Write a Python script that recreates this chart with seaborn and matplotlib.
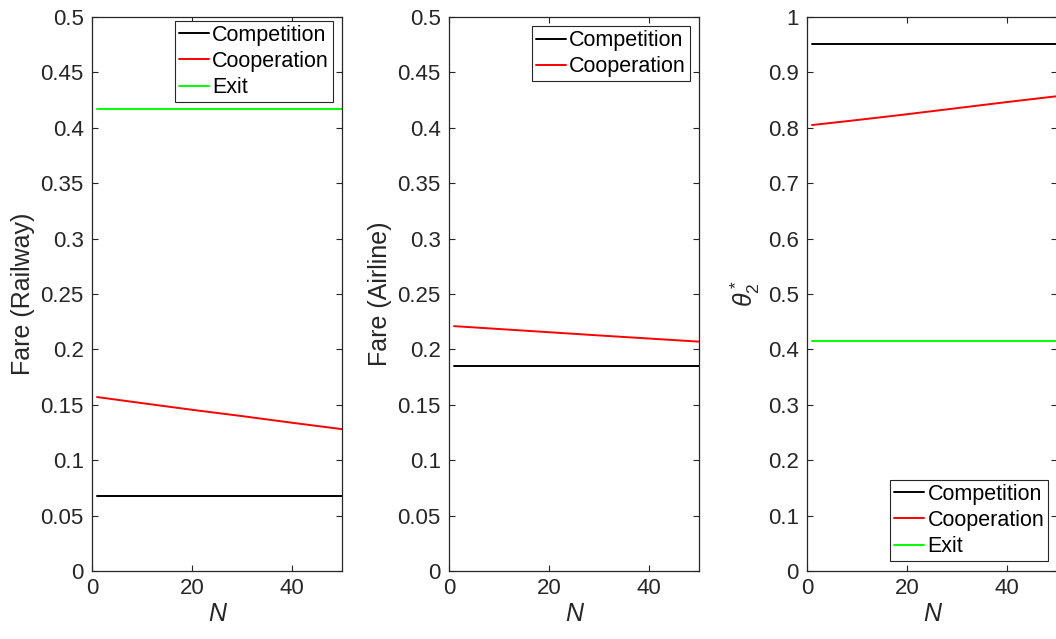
import matplotlib
matplotlib.use("Agg")
import matplotlib.pyplot as plt
import seaborn as sns
import pandas as pd

# Number of firms / market size N sampled along the horizontal axis
n_values = [1, 10, 20, 30, 40, 50]

# Railway fare under each scheme
rail_competition = [0.068, 0.068, 0.068, 0.068, 0.068, 0.068]
rail_cooperation = [0.157, 0.1515, 0.1455, 0.1398, 0.1338, 0.128]
rail_exit = [0.4167, 0.4167, 0.4167, 0.4167, 0.4167, 0.4167]

# Airline fare under each scheme
air_competition = [0.185, 0.185, 0.185, 0.185, 0.185, 0.185]
air_cooperation = [0.221, 0.2184, 0.2155, 0.2126, 0.2098, 0.207]

# Optimal theta_2 under each scheme
theta_competition = [0.951, 0.951, 0.951, 0.951, 0.951, 0.951]
theta_cooperation = [0.805, 0.814, 0.8245, 0.8355, 0.8465, 0.857]
theta_exit = [0.415, 0.415, 0.415, 0.415, 0.415, 0.415]

schemes = ["Competition", "Cooperation", "Exit"]
scheme_colors = {"Competition": "#000000", "Cooperation": "#ff0000", "Exit": "#00ff00"}

rail_ticks = [0, 0.05, 0.1, 0.15, 0.2, 0.25, 0.3, 0.35, 0.4, 0.45, 0.5]
rail_ticklabels = ["0", "0.05", "0.1", "0.15", "0.2", "0.25", "0.3", "0.35", "0.4", "0.45", "0.5"]
theta_ticks = [0, 0.1, 0.2, 0.3, 0.4, 0.5, 0.6, 0.7, 0.8, 0.9, 1.0]
theta_ticklabels = ["0", "0.1", "0.2", "0.3", "0.4", "0.5", "0.6", "0.7", "0.8", "0.9", "1"]
x_ticks = [0, 20, 40]


def long_frame(series):
    rows = []
    for name, vals in series.items():
        for n, v in zip(n_values, vals):
            rows.append({"N": n, "value": v, "Scheme": name})
    return pd.DataFrame(rows)


sns.set_theme(style="white")
ink = "#262626"
plt.rcParams["font.family"] = ["Liberation Sans", "DejaVu Sans"]
plt.rcParams["mathtext.fontset"] = "custom"
plt.rcParams["mathtext.it"] = "Liberation Sans:italic"
plt.rcParams["mathtext.rm"] = "Liberation Sans"
plt.rcParams["axes.edgecolor"] = ink
plt.rcParams["axes.linewidth"] = 0.9

fig = plt.figure(figsize=(10.56, 6.39), dpi=100)
W, H = 1056, 639
bottom_px, top_px = 571, 17
height = (bottom_px - top_px) / H
bottom = (H - bottom_px) / H
lefts_px = [92, 449, 807]
width = 250 / W

panels = [
    {
        "series": {"Competition": rail_competition, "Cooperation": rail_cooperation, "Exit": rail_exit},
        "ylim": (0, 0.5), "ticks": rail_ticks, "labels": rail_ticklabels,
        "ylabel": "Fare (Railway)", "legend": ("upper right", (0.964, 0.993)),
    },
    {
        "series": {"Competition": air_competition, "Cooperation": air_cooperation},
        "ylim": (0, 0.5), "ticks": rail_ticks, "labels": rail_ticklabels,
        "ylabel": "Fare (Airline)", "legend": ("upper right", (0.964, 0.983)),
    },
    {
        "series": {"Competition": theta_competition, "Cooperation": theta_cooperation, "Exit": theta_exit},
        "ylim": (0, 1), "ticks": theta_ticks, "labels": theta_ticklabels,
        "ylabel": r"$\theta_2^*$", "legend": ("lower right", (0.965, 0.018)),
    },
]

for left_px, spec in zip(lefts_px, panels):
    ax = fig.add_axes([left_px / W, bottom, width, height])
    df = long_frame(spec["series"])
    present = [s for s in schemes if s in spec["series"]]
    sns.lineplot(data=df, x="N", y="value", hue="Scheme", hue_order=present,
                 palette=scheme_colors, linewidth=1.4, ax=ax)
    ax.set_xlim(0, 50)
    ax.set_ylim(*spec["ylim"])
    ax.set_xticks(x_ticks)
    ax.set_xticklabels([str(t) for t in x_ticks])
    ax.set_yticks(spec["ticks"])
    ax.set_yticklabels(spec["labels"])
    ax.tick_params(direction="in", length=4, width=0.8, colors=ink,
                   labelsize=16, top=True, right=True, left=True, bottom=True)
    ax.tick_params(axis="y", pad=6)
    ax.tick_params(axis="x", pad=5)
    ax.set_xlabel("N", fontsize=18, fontstyle="italic", color=ink, labelpad=2)
    ax.set_ylabel(spec["ylabel"], fontsize=18, color=ink, labelpad=4)
    for sp in ax.spines.values():
        sp.set_visible(True)
        sp.set_color(ink)
    loc, anchor = spec["legend"]
    leg = ax.legend(loc=loc, bbox_to_anchor=anchor, borderaxespad=0, fontsize=15.5,
                    fancybox=False, framealpha=1, edgecolor=ink, handlelength=1.4,
                    handletextpad=0.15, labelspacing=0.24, borderpad=0.18, title=None)
    leg.get_frame().set_linewidth(0.8)
    for t in leg.get_texts():
        t.set_color("#000000")

fig.savefig("out.png", dpi=100)
